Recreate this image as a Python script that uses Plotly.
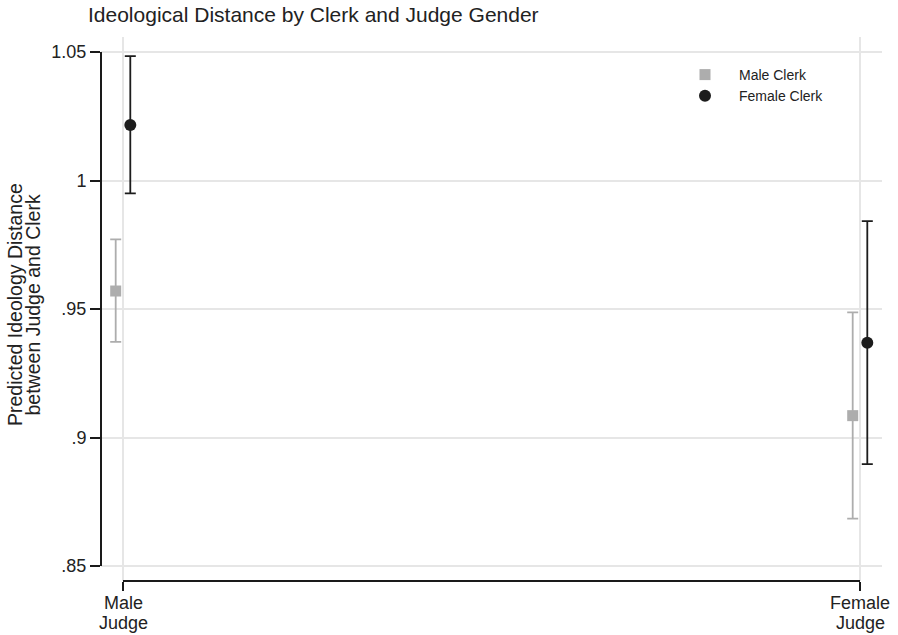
import plotly.graph_objects as go

# ---- data ----
judge_labels = ["Male<br>Judge", "Female<br>Judge"]
judge_pos = [0, 1]
series_names = ["Male Clerk", "Female Clerk"]
male_clerk_est = [0.957, 0.9085]
male_clerk_lo = [0.9372, 0.8684]
male_clerk_hi = [0.9771, 0.9487]
female_clerk_est = [1.0216, 0.9369]
female_clerk_lo = [0.9950, 0.8896]
female_clerk_hi = [1.0484, 0.9842]
y_tickvals = [0.85, 0.90, 0.95, 1.00, 1.05]
y_ticktext = [".85", ".9", ".95", "1", "1.05"]
y_title_lines = ["Predicted Ideology Distance", "between Judge and Clerk"]
chart_title = "Ideological Distance by Clerk and Judge Gender"

FONT = "Liberation Sans, Arial, Helvetica, sans-serif"
TXT = "#222222"
GRAY = "#adadad"
DARK = "#1c1c1c"
AXIS = "#1a1a1a"
GRID = "#e6e6e6"
offset = 0.0099

ML, MR, MT, MB = 101, 16, 37, 54
W, H = 898, 635
PW, PH = W - ML - MR, H - MT - MB

fig = go.Figure()

def add_series(name, est, lo, hi, shift, color, symbol, size):
    fig.add_trace(go.Scatter(
        x=[p + shift for p in judge_pos], y=est, name=name, mode="markers",
        marker=dict(symbol=symbol, size=size, color=color),
        error_y=dict(type="data", symmetric=False,
                     array=[h - e for h, e in zip(hi, est)],
                     arrayminus=[e - l for e, l in zip(est, lo)],
                     color=color, thickness=1.8, width=5.5),
    ))

add_series(series_names[0], male_clerk_est, male_clerk_lo, male_clerk_hi, -offset, GRAY, "square", 11)
add_series(series_names[1], female_clerk_est, female_clerk_lo, female_clerk_hi, offset, DARK, "circle", 12)

# axis lines spanning only the tick range (Stata style)
fig.add_shape(type="line", xref="paper", yref="y", x0=0, x1=0,
              y0=min(y_tickvals), y1=max(y_tickvals), line=dict(color=AXIS, width=2))
fig.add_shape(type="line", xref="x", yref="paper", x0=min(judge_pos), x1=max(judge_pos),
              y0=0, y1=0, line=dict(color=AXIS, width=2))

# x tick labels (two tight lines each)
for pos, lab in zip(judge_pos, judge_labels):
    for i, line in enumerate(lab.split("<br>")):
        fig.add_annotation(text=line, xref="x", yref="paper", x=pos, y=0,
                           yshift=-(22 + 19.5 * i), xanchor="center", yanchor="middle",
                           showarrow=False, font=dict(family=FONT, size=18, color=TXT))

# y axis title (two tight lines)
for i, line in enumerate(y_title_lines):
    px = 15 + 17.5 * i
    fig.add_annotation(text=line, xref="paper", yref="paper",
                       x=(px - ML) / PW, y=(H - MB - 305) / PH, textangle=-90,
                       showarrow=False, font=dict(family=FONT, size=19.5, color=TXT),
                       xanchor="center", yanchor="middle")

fig.update_layout(
    width=W, height=H,
    margin=dict(l=ML, r=MR, t=MT, b=MB),
    paper_bgcolor="white", plot_bgcolor="white",
    font=dict(family=FONT, size=14, color=TXT),
    title=dict(text=chart_title,
               x=88 / W, xanchor="left", xref="container",
               y=1 - 15 / H, yanchor="middle", yref="container",
               font=dict(family=FONT, size=21, color=TXT)),
    showlegend=True,
    legend=dict(x=(671 - ML) / PW, y=(H - MB - 59) / PH, xanchor="left", yanchor="top",
                bgcolor="rgba(0,0,0,0)", font=dict(family=FONT, size=14, color=TXT),
                itemwidth=58, tracegroupgap=0),
    xaxis=dict(range=[-0.02985, 1.02985], tickvals=judge_pos, ticktext=["", ""],
               showgrid=True, gridcolor=GRID, gridwidth=1.5, zeroline=False,
               showline=False, ticks="outside", ticklen=9, tickwidth=2, tickcolor=AXIS),
    yaxis=dict(range=[0.84416, 1.05584], tickvals=y_tickvals, ticktext=y_ticktext,
               showgrid=True, gridcolor=GRID, gridwidth=1.5, zeroline=False,
               showline=False, ticks="outside", ticklen=10, tickwidth=2, tickcolor=AXIS,
               tickfont=dict(family=FONT, size=18, color=TXT)),
)

fig.write_html("out.html")
